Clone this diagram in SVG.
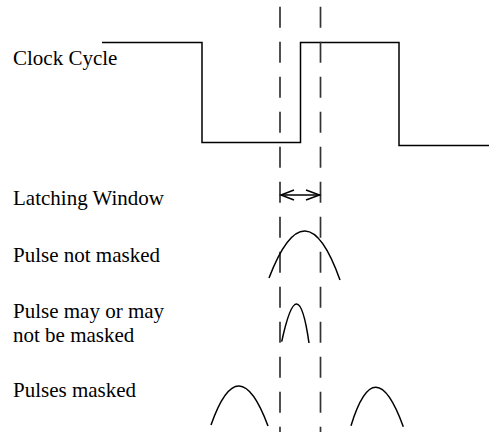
<svg xmlns="http://www.w3.org/2000/svg" width="489" height="432" viewBox="0 0 489 432">
<style>
text{font-family:"Liberation Serif","Tinos","Times New Roman","DejaVu Serif",serif;font-size:21px;fill:#000}
.w{fill:none;stroke:#000;stroke-width:1.5}
.d{fill:none;stroke:#333;stroke-width:1.7;stroke-dasharray:21 14}
</style>
<rect width="489" height="432" fill="#fff"/>
<g id="labels" font-family="Liberation Serif, serif">
<text x="13" y="65">Clock Cycle</text>
<text x="13" y="205">Latching Window</text>
<text x="13" y="262">Pulse not masked</text>
<text x="13" y="317.5">Pulse may or may</text>
<text x="13" y="341.5">not be masked</text>
<text x="13" y="397">Pulses masked</text>
</g>
<g id="clock">
<path class="w" d="M102,42.5 H202 V142.5 H300.5 V42.5 H399 V145.5 H489"/>
</g>
<g id="window">
<path class="d" d="M280,6.7 V432"/>
<path class="d" d="M320.5,6.7 V432"/>
</g>
<g id="connectors">
<path class="w" d="M281,195 H320"/>
<path class="w" d="M294,190 L281,195 L294,200"/>
<path class="w" d="M306,190 L319.5,195 L306,200"/>
</g>
<g id="pulse-not-masked">
<path class="w" d="M269,278 Q305.5,183 340,280"/>
</g>
<g id="pulse-may">
<path class="w" d="M281.7,341.7 Q298,265.6 309,343"/>
</g>
<g id="pulses-masked">
<path class="w" d="M211,425 Q238.5,346.5 268,426"/>
<path class="w" d="M351,425.7 Q374.8,348.4 403.3,426.7"/>
</g>
</svg>
